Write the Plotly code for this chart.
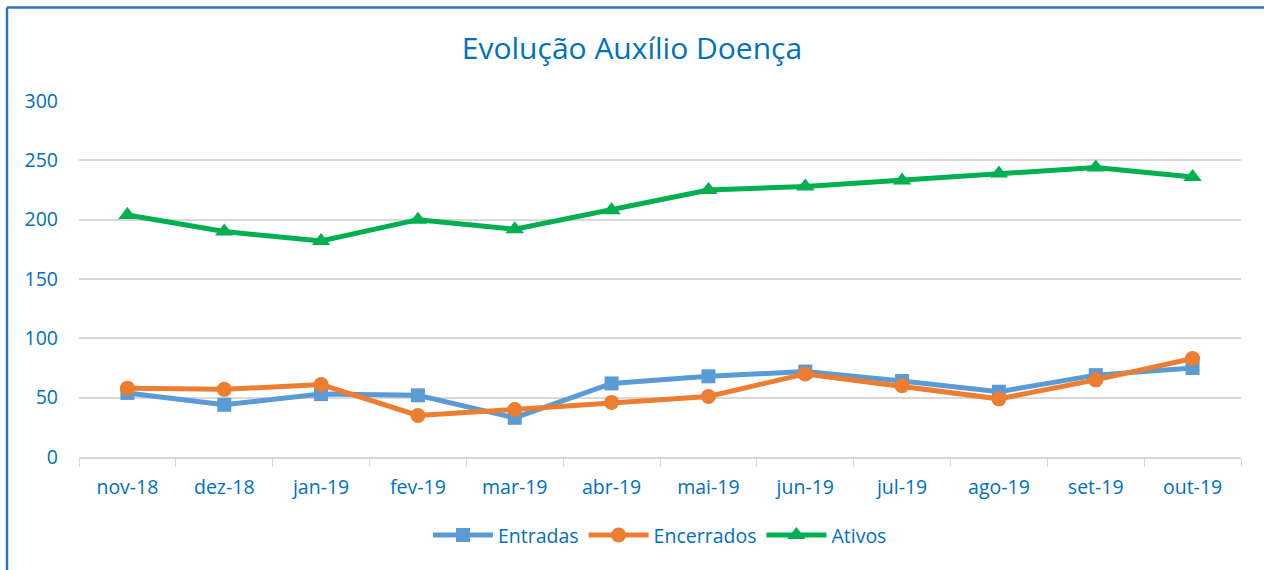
import plotly.graph_objects as go

months = ["nov-18", "dez-18", "jan-19", "fev-19", "mar-19", "abr-19",
          "mai-19", "jun-19", "jul-19", "ago-19", "set-19", "out-19"]
entradas = [54, 44, 53, 52, 33, 62, 68, 72, 64, 55, 69, 75]
encerrados = [58, 57, 61, 35, 40, 46, 51, 70, 60, 49, 65, 83]
ativos = [204, 190, 182, 200, 192, 208, 225, 228, 233, 239, 244, 236]
y_ticks = [0, 50, 100, 150, 200, 250, 300]

TXT = "#0070C0"
FONT = "Open Sans"

fig = go.Figure()
fig.add_trace(go.Scatter(x=months, y=entradas, name="Entradas", mode="lines+markers",
                         line=dict(color="#5B9BD5", width=5),
                         marker=dict(symbol="square", size=14, color="#5B9BD5")))
fig.add_trace(go.Scatter(x=months, y=encerrados, name="Encerrados", mode="lines+markers",
                         line=dict(color="#ED7D31", width=5),
                         marker=dict(symbol="circle", size=15, color="#ED7D31")))
fig.add_trace(go.Scatter(x=months, y=ativos, name="Ativos", mode="lines+markers",
                         line=dict(color="#00B050", width=5),
                         marker=dict(symbol="triangle-up", size=16, color="#00B050")))

bx0 = (7 - 79) / 1162
bx1 = (1290 - 79) / 1162
by0 = -(600 - 457) / 356
by1 = 1 + (101 - 7.5) / 356
border = dict(color="#2E75B6", width=2.5)

fig.update_layout(
    width=1264, height=570,
    margin=dict(l=79, r=23, t=101, b=113),
    paper_bgcolor="white", plot_bgcolor="white",
    title=dict(text="Evolução Auxílio Doença", x=0.5, xanchor="center",
               y=1 - 48 / 570, yanchor="middle",
               font=dict(family=FONT, size=30, color=TXT)),
    font=dict(family=FONT, size=19.5, color=TXT),
    showlegend=True,
    legend=dict(orientation="h", x=0.5, xanchor="center", y=-0.22, yanchor="middle",
                font=dict(family=FONT, size=19.5, color=TXT), itemwidth=60),
    xaxis=dict(type="category", range=[-0.5, len(months) - 0.5],
               tickson="boundaries", ticks="outside", ticklen=8,
               tickcolor="#D9D9D9", showline=True, linecolor="#D9D9D9", linewidth=2,
               showgrid=False, ticklabelstandoff=12,
               tickfont=dict(size=19.5, color=TXT), fixedrange=True),
    yaxis=dict(range=[0, 300], tickvals=y_ticks, showgrid=True, gridcolor="#D9D9D9",
               gridwidth=1.5, zeroline=False, showline=False, ticks="",
               ticklabelstandoff=20, tickfont=dict(size=19.5, color=TXT)),
    shapes=[
        dict(type="line", xref="paper", yref="paper", x0=bx0, x1=bx1, y0=by1, y1=by1,
             line=border, layer="above"),
        dict(type="line", xref="paper", yref="paper", x0=bx0, x1=bx0, y0=by0, y1=by1,
             line=border, layer="above"),
    ],
)

fig.write_html("out.html", post_script="document.body.style.margin='0';",
               config={"displayModeBar": False})
